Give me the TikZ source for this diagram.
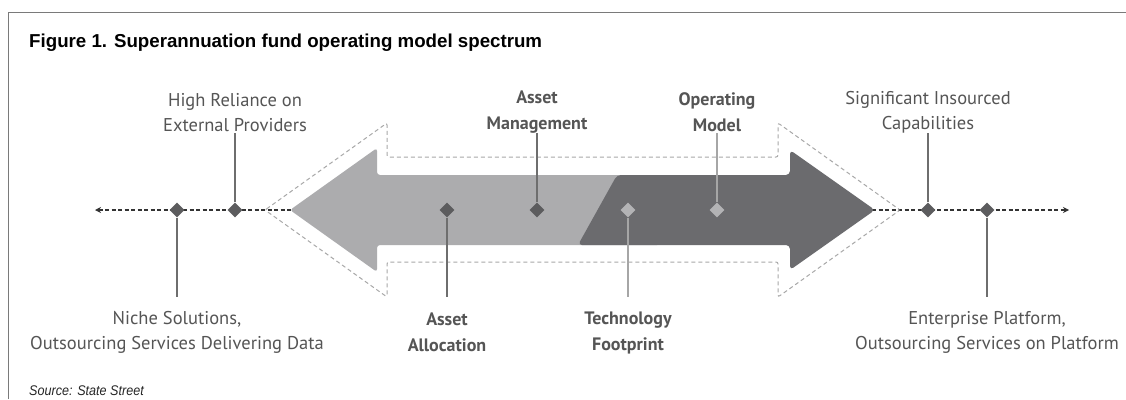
\documentclass[tikz,border=0pt]{standalone}
\usepackage{fontspec}
\setmainfont{Liberation Sans}
\newfontfamily\labelfont{PT Sans}
\usetikzlibrary{shapes.geometric,arrows.meta}

\definecolor{framegray}{HTML}{7A7A7A}
\definecolor{axisgray}{HTML}{333333}
\definecolor{lightarrow}{HTML}{ACACAE}
\definecolor{darkarrow}{HTML}{6B6B6E}
\definecolor{outlinegray}{HTML}{A8A8A8}
\definecolor{darkdia}{HTML}{5C5C5E}
\definecolor{lightdia}{HTML}{B3B3B5}
\definecolor{labelgray}{HTML}{555555}
\definecolor{lightline}{HTML}{A6A6A6}
\definecolor{darkline}{HTML}{6E6E6E}

\tikzset{
  lbl/.style={align=center, inner sep=0pt, text=labelgray,
    font=\labelfont\fontsize{18.5pt}{25pt}\selectfont},
  lblbold/.style={lbl, font=\labelfont\bfseries\fontsize{18pt}{26pt}\selectfont},
  dia/.style={diamond, fill=darkdia, inner sep=0pt, minimum width=15pt, minimum height=15pt},
  dialight/.style={dia, fill=lightdia},
  conn/.style={line width=1.7pt, draw=darkline},
  connlight/.style={line width=1.7pt, draw=lightline},
  outline/.style={draw=outlinegray, line width=1pt, dash pattern=on 4pt off 3pt, rounded corners=2pt},
  axis/.style={draw=axisgray, line width=2pt, dash pattern=on 4pt off 2.5pt,
    {Stealth[length=6pt,width=6pt]}-{Stealth[length=6pt,width=6pt]}}
}

\begin{document}
\begin{tikzpicture}[x=1pt,y=-1pt]
\useasboundingbox (0,0) rectangle (1126,399);
\fill[white] (0,0) rectangle (1126,399);

% frame
\draw[framegray, line width=1.5pt] (8.5,399) -- (8.5,12.5) -- (1126,12.5);

% title and source
\node[anchor=west, inner sep=0pt, font=\bfseries\fontsize{18.7pt}{22pt}\selectfont] (title) at (29,43) {Figure 1. Superannuation fund operating model spectrum};
\node[anchor=west, inner sep=0pt, text=black!85] (source) at (29,391) {\scalebox{0.9}[1]{\itshape\fontsize{14pt}{16pt}\selectfont Source: State Street}};

% spectrum axis
\draw[axis] (95,210) -- (1069,210);

% dashed outline of the double arrow
\draw[outline] (265,210) -- (387,123) -- (387,157) -- (778,157) -- (778,123) -- (900,210)
  -- (778,297) -- (778,262) -- (387,262) -- (387,297) -- cycle;

% left-pointing light arrow
\fill[lightarrow, rounded corners=3pt] (290,210) -- (377,148) -- (377,175) -- (660,175)
  -- (660,245) -- (377,245) -- (377,272) -- cycle;
% right-pointing dark arrow
\fill[darkarrow, rounded corners=4pt] (578,245) -- (617,175) -- (790,175) -- (790,150)
  -- (875,210) -- (790,270) -- (790,245) -- cycle;

% markers
\node[dia] (dNiche) at (177,210) {};
\node[dia] (dHigh) at (235,210) {};
\node[dia] (dAA) at (447,210) {};
\node[dia] (dAM) at (537,210) {};
\node[dialight] (dTF) at (628,210) {};
\node[dialight] (dOM) at (717,210) {};
\node[dia] (dSIC) at (928,210) {};
\node[dia] (dEP) at (987,210) {};

% labels
\node[lbl] (lHigh) at (235,112.5) {High Reliance on\\External Providers};
\node[lblbold] (lAM) at (537,112.5) {Asset\\Management};
\node[lblbold] (lOM) at (717,112.5) {Operating\\Model};
\node[lbl] (lSIC) at (928,112.5) {Significant Insourced\\Capabilities};
\node[lbl] (lNiche) at (177,332.5) {Niche Solutions,\\Outsourcing Services Delivering Data};
\node[lblbold] (lAA) at (447,332.5) {Asset\\Allocation};
\node[lblbold] (lTF) at (628,332.5) {Technology\\Footprint};
\node[lbl] (lEP) at (987,332.5) {Enterprise Platform,\\Outsourcing Services on Platform};

% leader lines
\draw[conn, shorten >=20.5pt] (dHigh) -- (lHigh.center);
\draw[conn, shorten >=20.5pt] (dAM) -- (lAM.center);
\draw[connlight, shorten >=20.5pt] (dOM) -- (lOM.center);
\draw[conn, shorten >=20.5pt] (dSIC) -- (lSIC.center);
\draw[conn, shorten >=35.5pt] (dNiche) -- (lNiche.center);
\draw[conn, shorten >=35.5pt] (dAA) -- (lAA.center);
\draw[connlight, shorten >=35.5pt] (dTF) -- (lTF.center);
\draw[conn, shorten >=35.5pt] (dEP) -- (lEP.center);
\end{tikzpicture}
\end{document}
